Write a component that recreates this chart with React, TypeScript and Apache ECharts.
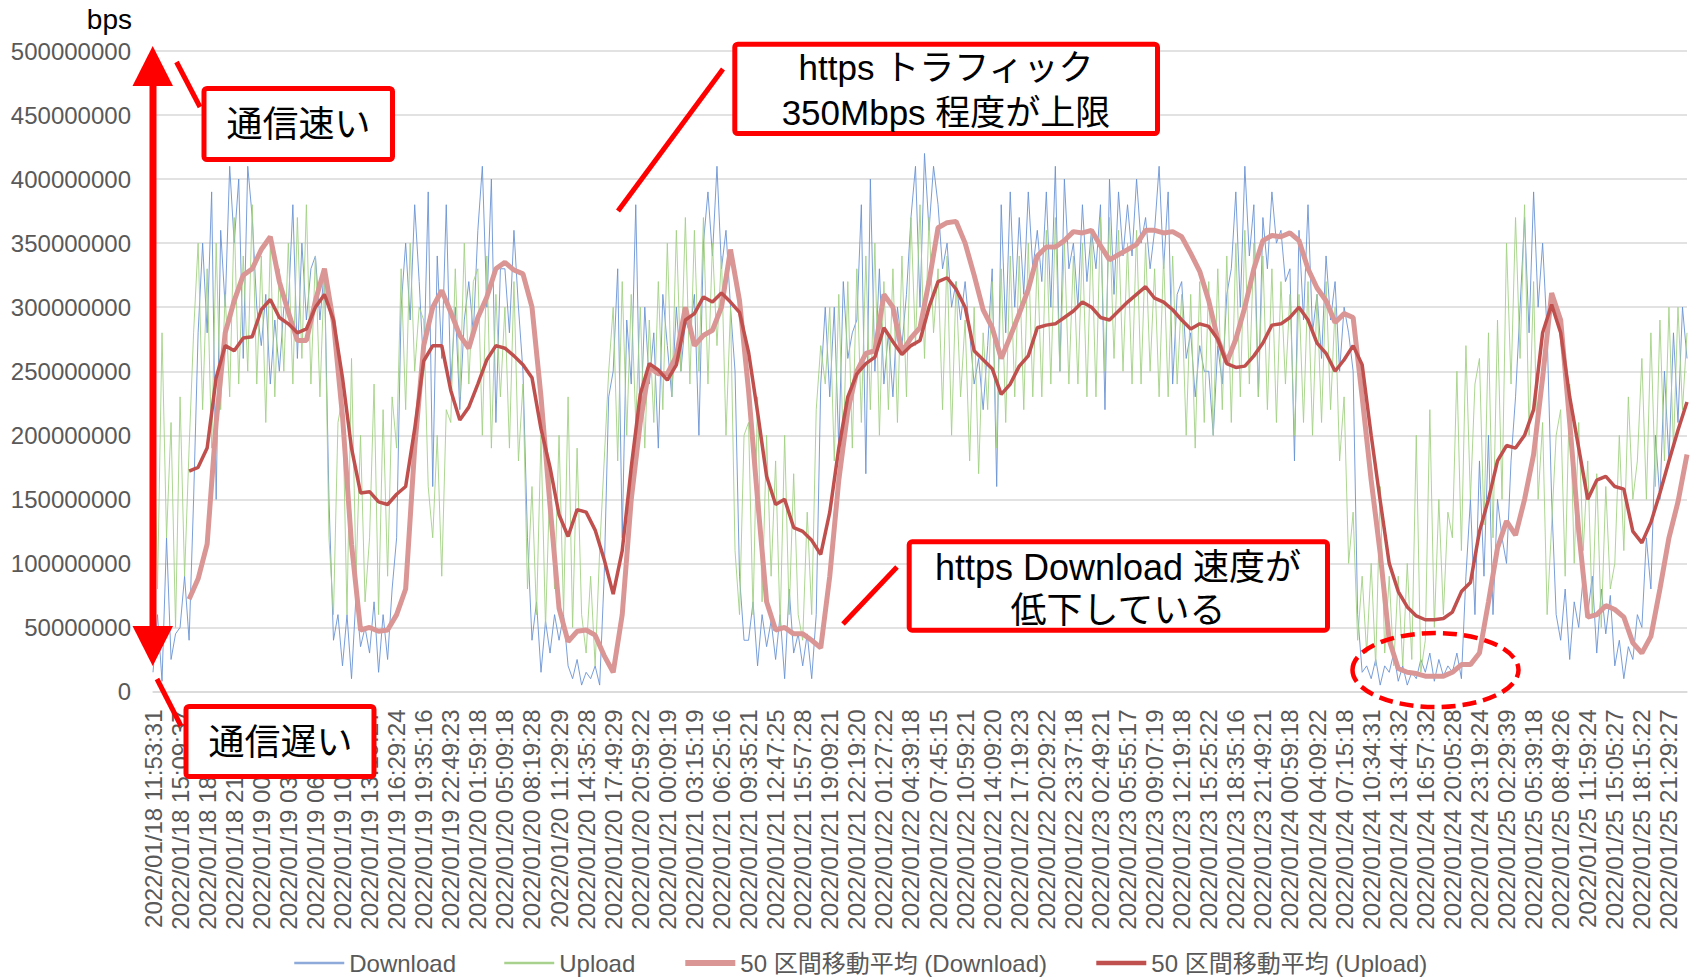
import React, { useEffect, useRef } from "react";
import * as echarts from "echarts";

// x labels: one every 6 samples
const TIME_LABELS = [
  "2022/01/18 11:53:31", "2022/01/18 15:09:37", "2022/01/18 18:19:25", "2022/01/18 21:29:29",
  "2022/01/19 00:39:27", "2022/01/19 03:49:23", "2022/01/19 06:59:20", "2022/01/19 10:09:22",
  "2022/01/19 13:19:27", "2022/01/19 16:29:24", "2022/01/19 19:35:16", "2022/01/19 22:49:23",
  "2022/01/20 01:59:18", "2022/01/20 05:09:18", "2022/01/20 08:19:28", "2022/01/20 11:29:29",
  "2022/01/20 14:35:28", "2022/01/20 17:49:29", "2022/01/20 20:59:22", "2022/01/21 00:09:19",
  "2022/01/21 03:15:19", "2022/01/21 06:25:16", "2022/01/21 09:35:21", "2022/01/21 12:47:25",
  "2022/01/21 15:57:28", "2022/01/21 19:09:21", "2022/01/21 22:19:20", "2022/01/22 01:27:22",
  "2022/01/22 04:39:18", "2022/01/22 07:45:15", "2022/01/22 10:59:21", "2022/01/22 14:09:20",
  "2022/01/22 17:19:23", "2022/01/22 20:29:22", "2022/01/22 23:37:18", "2022/01/23 02:49:21",
  "2022/01/23 05:55:17", "2022/01/23 09:07:19", "2022/01/23 12:19:18", "2022/01/23 15:25:22",
  "2022/01/23 18:35:16", "2022/01/23 21:49:21", "2022/01/24 00:59:18", "2022/01/24 04:09:22",
  "2022/01/24 07:15:18", "2022/01/24 10:34:31", "2022/01/24 13:44:32", "2022/01/24 16:57:32",
  "2022/01/24 20:05:28", "2022/01/24 23:19:24", "2022/01/25 02:29:39", "2022/01/25 05:39:18",
  "2022/01/25 08:49:26", "2022/01/25 11:59:24", "2022/01/25 15:05:27", "2022/01/25 18:15:22",
  "2022/01/25 21:29:27",
];
const SAMPLES_PER_LABEL = 6;

// Download (Mbps), 341 samples
const DOWNLOAD = [
  15, 60, 8, 120, 25, 45, 50, 90, 40, 150, 280, 350,
  280, 390, 150, 360, 300, 410, 350, 400, 260, 410, 370, 300,
  270, 310, 240, 290, 250, 300, 300, 380, 260, 350, 290, 330,
  340, 290, 330, 150, 40, 60, 20, 60, 10, 75, 35, 50,
  30, 70, 15, 60, 25, 80, 120, 300, 350, 290, 380, 320,
  250, 390, 160, 340, 260, 380, 240, 300, 220, 290, 320, 280,
  360, 410, 300, 400, 210, 330, 330, 280, 360, 300, 250, 120,
  40, 70, 15, 55, 30, 60, 40, 60, 20, 10, 25, 5,
  15, 10, 20, 5, 90, 230, 250, 330, 120, 290, 240, 380,
  200, 300, 240, 280, 190, 310, 270, 230, 300, 250, 290, 280,
  310, 200, 350, 390, 340, 410, 330, 360, 300, 250, 90, 40,
  40, 70, 20, 60, 35, 55, 25, 60, 10, 80, 30, 45,
  20, 45, 10, 60, 240, 300, 230, 300, 190, 320, 260, 280,
  290, 380, 170, 400, 250, 330, 240, 280, 230, 300, 270, 310,
  370, 410, 300, 420, 360, 410, 380, 330, 350, 300, 320, 290,
  320, 280, 240, 260, 220, 270, 330, 160, 380, 280, 390, 300,
  370, 310, 390, 330, 360, 320, 390, 300, 410, 250, 400, 330,
  350, 300, 380, 320, 360, 330, 380, 220, 400, 310, 390, 340,
  380, 340, 400, 350, 370, 330, 360, 410, 330, 390, 240, 310,
  320, 260, 280, 230, 270, 250, 250, 200, 270, 240, 310, 330,
  390, 300, 410, 340, 380, 230, 370, 330, 390, 350, 360, 320,
  330, 180, 360, 290, 380, 280, 310, 260, 340, 290, 320, 250,
  300, 280, 250, 60, 15, 20, 10, 25, 5, 20, 15, 30,
  8, 20, 5, 15, 10, 25, 15, 30, 8, 25, 12, 20,
  15, 30, 10, 90, 150, 60, 180, 90, 200, 60, 150, 120,
  100, 180, 230, 300, 370, 280, 390, 300, 350, 280, 150, 60,
  40, 80, 25, 70, 50, 90, 60, 90, 30, 80, 45, 75,
  20, 40, 10, 35, 25, 60, 50, 120, 80, 200, 150, 250,
  180, 280, 210, 300, 260,
];

// Upload (Mbps), 341 samples
const UPLOAD = [
  260, 80, 280, 120, 210, 50, 230, 90, 190, 280, 350, 220,
  330, 190, 350, 220, 310, 230, 370, 240, 340, 250, 380, 240,
  340, 210, 350, 230, 330, 250, 350, 240, 370, 260, 380, 240,
  340, 230, 330, 120, 60, 210, 230, 60, 260, 90, 200, 70,
  120, 240, 60, 220, 90, 230, 190, 330, 220, 350, 250, 300,
  290, 160, 120, 200, 90, 220, 210, 330, 230, 350, 240, 320,
  330, 200, 340, 190, 310, 230, 300, 190, 320, 180, 240, 80,
  160, 60, 200, 50, 170, 80, 200, 60, 230, 50, 190, 60,
  30, 90, 20, 110, 180, 250, 300, 180, 320, 200, 310, 210,
  300, 190, 290, 210, 320, 220, 350, 230, 360, 250, 370, 240,
  360, 250, 370, 240, 350, 270, 340, 200, 300, 110, 60, 200,
  210, 60, 230, 70, 200, 90, 180, 50, 200, 60, 170, 60,
  40, 140, 60, 220, 270, 240, 300, 180, 310, 190, 320, 190,
  330, 210, 340, 220, 350, 200, 320, 220, 330, 210, 340, 230,
  370, 270, 380, 260, 370, 280, 330, 220, 340, 200, 320, 230,
  290, 180, 300, 170, 280, 220, 320, 190, 330, 210, 340, 230,
  340, 220, 350, 230, 340, 230, 360, 240, 370, 250, 350, 240,
  340, 240, 350, 230, 360, 230, 370, 250, 370, 260, 360, 250,
  350, 240, 360, 240, 350, 250, 330, 230, 340, 230, 340, 240,
  310, 200, 310, 190, 320, 210, 320, 200, 330, 220, 340, 210,
  350, 230, 360, 240, 350, 230, 340, 220, 330, 210, 320, 240,
  310, 200, 310, 210, 320, 200, 310, 210, 320, 220, 300, 180,
  230, 100, 140, 40, 90, 30, 100, 20, 160, 30, 90, 20,
  90, 20, 100, 25, 200, 15, 40, 220, 50, 150, 60, 140,
  120, 250, 110, 270, 150, 240, 260, 130, 280, 120, 290, 150,
  350, 240, 370, 260, 380, 200, 320, 150, 210, 60, 130, 200,
  220, 90, 240, 100, 210, 110, 180, 60, 170, 50, 160, 80,
  100, 200, 110, 230, 150, 180, 260, 150, 280, 160, 290, 180,
  300, 190, 300, 220, 280,
];

// 50-interval moving averages (Mbps), one value every 2 samples, 171 values
const MA_DOWNLOAD = [
  null, null, null, null, 72, 88, 115, 210, 280, 305,
  325, 330, 345, 355, 320, 296, 274, 274, 305, 330,
  288, 215, 115, 48, 50, 47, 48, 60, 80, 190,
  270, 300, 313, 296, 278, 268, 292, 308, 330, 335,
  329, 326, 300, 230, 145, 65, 39, 47, 48, 44,
  28, 15, 60, 150, 210, 253, 248, 248, 262, 300,
  270, 278, 282, 300, 345, 305, 235, 150, 70, 48,
  50, 45, 45, 40, 34, 90, 165, 219, 250, 264,
  266, 310, 300, 265, 276, 284, 320, 362, 366, 367,
  350, 325, 298, 284, 260, 277, 295, 314, 340, 347,
  347, 352, 359, 358, 360, 348, 337, 341, 345, 349,
  360, 360, 358, 359, 355, 342, 328, 305, 275, 257,
  275, 300, 330, 352, 356, 355, 358, 352, 330, 315,
  305, 288, 295, 292, 230, 165, 108, 40, 18, 15,
  14, 12, 12, 12, 15, 21, 21, 30, 70, 112,
  133, 122, 150, 185, 245, 311, 290, 210, 125, 58,
  60, 67, 64, 58, 38, 30, 43, 80, 120, 148,
  185,
];

const MA_UPLOAD = [
  null, null, null, null, 172, 175, 190, 245, 270, 266,
  276, 277, 298, 306, 292, 287, 280, 283, 300, 310,
  290, 245, 190, 155, 156, 148, 146, 154, 160, 205,
  258, 270, 270, 235, 212, 222, 240, 259, 270, 268,
  262, 255, 245, 205, 175, 138, 121, 142, 140, 126,
  103, 76, 110, 175, 232, 256, 251, 243, 255, 290,
  295, 308, 304, 311, 304, 296, 265, 218, 168, 146,
  150, 128, 125, 118, 107, 140, 190, 230, 248, 256,
  261, 284, 273, 263, 270, 274, 300, 320, 323, 314,
  300, 266, 259, 252, 232, 240, 254, 262, 284, 286,
  287, 292, 297, 304, 300, 292, 290, 297, 304, 310,
  316, 307, 304, 298, 290, 283, 287, 285, 275, 256,
  253, 254, 262, 272, 286, 287, 292, 300, 290, 272,
  264, 250, 259, 270, 255, 200, 149, 100, 78, 66,
  59, 56, 56, 57, 62, 78, 85, 125, 150, 180,
  192, 190, 200, 220, 280, 302, 280, 230, 190, 150,
  165, 168, 160, 158, 125, 116, 132, 155, 180, 204,
  226,
];
const MA_STEP = 2;

const SERIES_NAMES = ["Download", "Upload", "50 区間移動平均 (Download)", "50 区間移動平均 (Upload)"];
const MBPS = 1000000;

const LATIN = "'Liberation Sans', Arial, 'Noto Sans CJK JP', sans-serif";
const JP = "'Liberation Sans', 'Noto Sans CJK JP', sans-serif";

function toPoints(arr: (number | null)[], step: number) {
  const out: [number, number][] = [];
  arr.forEach((v, i) => {
    if (v !== null && v !== undefined) out.push([i * step, v * MBPS]);
  });
  return out;
}

function box(x: number, y: number, w: number, h: number) {
  return {
    type: "rect",
    z: 100,
    shape: { x, y, width: w, height: h, r: 3 },
    style: { fill: "#ffffff", stroke: "#FF0000", lineWidth: 5 },
  };
}

function label(text: string, x: number, y: number, size: number) {
  return {
    type: "text",
    z: 101,
    x,
    y,
    style: {
      text,
      fontSize: size,
      fontFamily: JP,
      fill: "#000000",
      align: "center",
      verticalAlign: "middle",
    },
  };
}

function redLine(x1: number, y1: number, x2: number, y2: number, extra: any = {}) {
  return {
    type: "line",
    z: 100,
    shape: { x1, y1, x2, y2 },
    style: { stroke: "#FF0000", lineWidth: 5, ...extra },
  };
}

export default function App() {
  const ref = useRef<HTMLDivElement>(null);

  useEffect(() => {
    if (!ref.current) return;
    const chart = echarts.init(ref.current, undefined, { renderer: "svg" });
    const xMax = DOWNLOAD.length - 1;

    chart.setOption({
      animation: false,
      backgroundColor: "#ffffff",
      grid: { left: 153, right: 1694 - 1687, top: 51, bottom: 977 - 691.5, containLabel: false },
      legend: {
        left: 288,
        top: 946,
        itemWidth: 50,
        itemHeight: 22,
        itemGap: 47,
        itemStyle: { opacity: 0, borderWidth: 0 },
        textStyle: { fontSize: 24, color: "#595959", fontFamily: JP },
        data: [
          { name: SERIES_NAMES[0], lineStyle: { width: 2.5, color: "#8EAADB" } },
          { name: SERIES_NAMES[1], lineStyle: { width: 2.5, color: "#A9D18E" } },
          { name: SERIES_NAMES[2], lineStyle: { width: 6, color: "#D99694" } },
          { name: SERIES_NAMES[3], lineStyle: { width: 4.5, color: "#C0504D" } },
        ],
      },
      xAxis: {
        type: "value",
        min: 0,
        max: xMax,
        interval: SAMPLES_PER_LABEL,
        axisLine: { show: true, lineStyle: { color: "#D9D9D9", width: 1.5 } },
        axisTick: { show: false },
        splitLine: { show: false },
        axisLabel: {
          rotate: 90,
          margin: 18,
          fontSize: 24,
          color: "#595959",
          fontFamily: LATIN,
          showMinLabel: true,
          showMaxLabel: true,
          formatter: (v: number) => {
            if (v % SAMPLES_PER_LABEL !== 0) return "";
            return TIME_LABELS[v / SAMPLES_PER_LABEL] ?? "";
          },
        },
      },
      yAxis: {
        type: "value",
        min: 0,
        max: 500 * MBPS,
        interval: 50 * MBPS,
        name: "bps",
        nameLocation: "end",
        nameGap: 18,
        nameTextStyle: { fontSize: 28, color: "#000000", fontFamily: LATIN, align: "right", padding: [0, 21, 0, 0] },
        axisLine: { show: false },
        axisTick: { show: false },
        splitLine: { lineStyle: { color: "#D9D9D9", width: 1.5 } },
        axisLabel: {
          margin: 22,
          fontSize: 24,
          color: "#595959",
          fontFamily: LATIN,
          formatter: (v: number) => String(v),
        },
      },
      series: [
        {
          name: SERIES_NAMES[0],
          type: "line",
          symbol: "none",
          data: toPoints(DOWNLOAD, 1),
          lineStyle: { color: "#6A93D4", width: 0.9 },
          itemStyle: { color: "#8EAADB" },
          z: 2,
        },
        {
          name: SERIES_NAMES[1],
          type: "line",
          symbol: "none",
          data: toPoints(UPLOAD, 1),
          lineStyle: { color: "#A3D184", width: 0.9 },
          itemStyle: { color: "#A9D18E" },
          z: 3,
        },
        {
          name: SERIES_NAMES[2],
          type: "line",
          symbol: "none",
          data: toPoints(MA_DOWNLOAD, MA_STEP),
          lineStyle: { color: "#D99694", width: 5 },
          itemStyle: { color: "#D99694" },
          z: 4,
        },
        {
          name: SERIES_NAMES[3],
          type: "line",
          symbol: "none",
          data: toPoints(MA_UPLOAD, MA_STEP),
          lineStyle: { color: "#C0504D", width: 3.5 },
          itemStyle: { color: "#C0504D" },
          z: 5,
        },
      ],
      graphic: {
        elements: [
          // vertical double arrow
          { type: "rect", z: 100, shape: { x: 149.5, y: 80, width: 7, height: 552 }, style: { fill: "#FF0000" } },
          { type: "polygon", z: 100, shape: { points: [[152.7, 46], [132.5, 86], [173, 86]] }, style: { fill: "#FF0000" } },
          { type: "polygon", z: 100, shape: { points: [[132.5, 626], [173, 626], [152.7, 666]] }, style: { fill: "#FF0000" } },
          // 通信速い
          redLine(176.5, 62, 200, 107),
          box(204, 88.5, 188.5, 71),
          label("通信速い", 298.5, 124.5, 36),
          // 通信遅い
          redLine(157, 679, 181, 726),
          box(186, 706.5, 188, 70),
          label("通信遅い", 280.5, 742, 36),
          // limit line
          redLine(206, 228, 1678, 228, { shadowBlur: 4, shadowColor: "rgba(0,0,0,0.35)", shadowOffsetY: 3 }),
          redLine(618, 211, 723, 69),
          box(734.8, 44.2, 422.7, 89.3),
          label("https トラフィック", 946, 67.5, 35),
          label("350Mbps 程度が上限", 946, 112.5, 35),
          // download drop
          redLine(843, 624, 897, 567),
          box(909.2, 541.8, 418.3, 88.4),
          label("https Download 速度が", 1118, 567, 36),
          label("低下している", 1118, 610, 36),
          {
            type: "ellipse",
            z: 100,
            shape: { cx: 1435.5, cy: 670, rx: 83, ry: 37 },
            style: { fill: "none", stroke: "#FF0000", lineWidth: 4.5, lineDash: [14, 7] },
          },
        ],
      },
    });

    return () => chart.dispose();
  }, []);

  return (
    <div
      ref={ref}
      style={{ position: "fixed", left: 0, top: 0, width: 1694, height: 977, background: "#ffffff" }}
    />
  );
}
